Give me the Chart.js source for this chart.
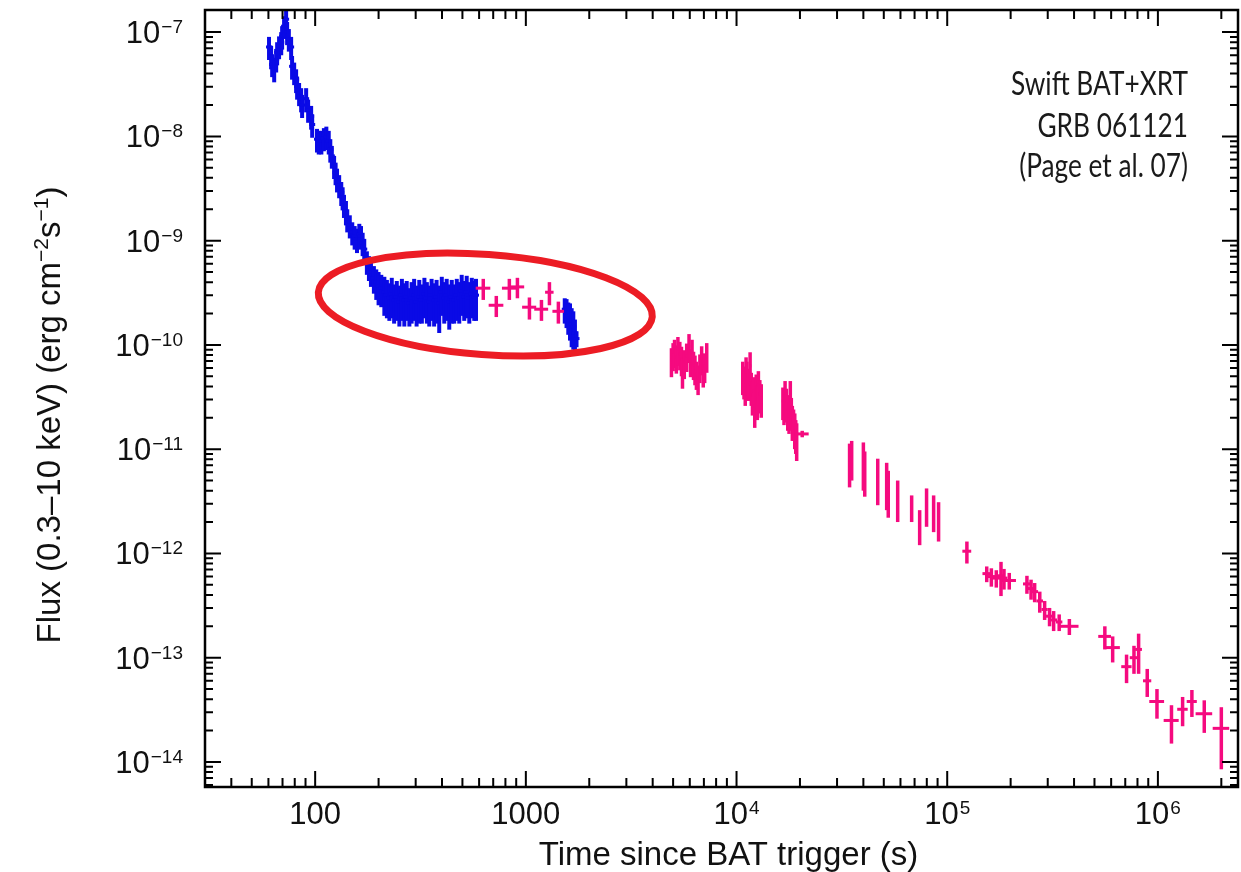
<!DOCTYPE html>
<html>
<head>
<meta charset="utf-8">
<title>GRB 061121 light curve</title>
<script src="https://cdn.jsdelivr.net/npm/chart.js@4.4.1/dist/chart.umd.min.js"></script>
<style>
  html, body { margin: 0; padding: 0; background: #fff; }
  canvas { display: block; }
</style>
</head>
<body>
<canvas id="grafica_grb" width="1241" height="872"></canvas>
<script>
// BAT+XRT WT (blue): time (s), flux and flux error (erg cm-2 s-1)
const batTime = [60.4, 61.8, 62.5, 63.9, 65.3, 66.0, 67.4, 69.0, 69.7, 71.2,
  72.8, 73.6, 75.0, 76.9, 77.7, 79.5, 81.2, 82.1, 83.9, 85.8,
  86.7, 90.6, 92.6, 95.7, 96.8, 102, 104, 107, 110, 113,
  116, 118, 120, 123, 125, 127, 130, 133, 135, 137,
  140, 142, 146, 150, 154, 158, 162, 165, 168, 171,
  176, 180, 184, 190, 195, 200, 206,
  213, 219, 225, 231, 237, 244, 251, 258, 265, 272,
  280, 287, 295, 303, 312, 321, 330, 339, 348, 357,
  367, 377, 388, 399, 410, 421, 433, 445, 457, 470,
  483, 496, 510, 524, 539, 554, 569, 580,
  1530, 1560, 1590, 1620, 1650, 1680, 1710, 1740];
const batFlux = [7.2e-8, 5.9e-8, 4.9e-8, 4.4e-8, 5.5e-8, 6.4e-8, 7.3e-8, 8.0e-8, 9.1e-8, 1.14e-7,
  1.33e-7, 1.0e-7, 8.6e-8, 7.2e-8, 4.7e-8, 4.1e-8, 3.5e-8, 3.0e-8, 2.6e-8, 2.3e-8,
  2.0e-8, 2.3e-8, 1.8e-8, 1.56e-8, 1.3e-8, 9.4e-9, 9.0e-9, 9.0e-9, 9.6e-9, 9.9e-9,
  9.0e-9, 7.5e-9, 6.5e-9, 5.2e-9, 4.5e-9, 3.9e-9, 3.4e-9, 2.9e-9, 2.6e-9, 2.2e-9,
  1.9e-9, 1.6e-9, 1.4e-9, 1.2e-9, 1.1e-9, 1.03e-9, 1.15e-9, 1.1e-9, 9.5e-10, 8.3e-10,
  6.3e-10, 5.6e-10, 5.0e-10, 4.4e-10, 4.0e-10, 3.7e-10, 3.5e-10,
  3.2e-10, 3.0e-10, 2.8e-10, 3.1e-10, 2.7e-10, 2.9e-10, 2.6e-10, 3.0e-10, 2.7e-10, 2.9e-10,
  2.5e-10, 2.8e-10, 3.0e-10, 2.6e-10, 2.9e-10, 2.7e-10, 3.1e-10, 2.8e-10, 2.6e-10, 3.0e-10,
  2.7e-10, 2.9e-10, 2.5e-10, 3.2e-10, 2.8e-10, 3.0e-10, 2.6e-10, 2.9e-10, 2.7e-10, 3.0e-10,
  2.8e-10, 3.3e-10, 2.9e-10, 3.2e-10, 2.8e-10, 3.1e-10, 2.9e-10, 3.0e-10,
  2.2e-10, 2.1e-10, 1.9e-10, 1.8e-10, 1.6e-10, 1.5e-10, 1.3e-10, 1.15e-10];
const batFluxErr = [1.8e-8, 1.5e-8, 1.2e-8, 1.1e-8, 1.4e-8, 1.6e-8, 1.8e-8, 2.0e-8, 2.3e-8, 2.8e-8,
  3.2e-8, 2.5e-8, 2.1e-8, 1.8e-8, 1.2e-8, 1.0e-8, 0.9e-8, 0.75e-8, 0.65e-8, 0.6e-8,
  0.5e-8, 0.6e-8, 0.45e-8, 0.4e-8, 0.33e-8, 2.4e-9, 2.3e-9, 2.3e-9, 2.4e-9, 2.5e-9,
  2.3e-9, 1.9e-9, 1.6e-9, 1.3e-9, 1.1e-9, 1.0e-9, 0.85e-9, 0.75e-9, 0.65e-9, 0.55e-9,
  0.5e-9, 0.4e-9, 0.35e-9, 0.3e-9, 0.28e-9, 0.27e-9, 0.3e-9, 0.28e-9, 2.4e-10, 2.1e-10,
  1.6e-10, 1.5e-10, 1.4e-10, 1.3e-10, 1.3e-10, 1.3e-10, 1.2e-10,
  1.3e-10, 1.2e-10, 1.1e-10, 1.3e-10, 1.1e-10, 1.2e-10, 1.1e-10, 1.3e-10, 1.2e-10, 1.2e-10,
  1.0e-10, 1.2e-10, 1.3e-10, 1.1e-10, 1.3e-10, 1.1e-10, 1.3e-10, 1.2e-10, 1.1e-10, 1.3e-10,
  1.2e-10, 1.3e-10, 1.2e-10, 1.3e-10, 1.2e-10, 1.3e-10, 1.2e-10, 1.3e-10, 1.1e-10, 1.3e-10,
  1.2e-10, 1.4e-10, 1.2e-10, 1.4e-10, 1.2e-10, 1.3e-10, 1.2e-10, 1.3e-10,
  0.6e-10, 0.65e-10, 0.65e-10, 0.7e-10, 0.65e-10, 0.6e-10, 0.45e-10, 0.2e-10];

// XRT PC (magenta): time, time half-width, flux, flux error
const xrtTime = [628, 724, 835, 912, 1040, 1186, 1294, 1427,
  4910, 5000, 5080, 5180, 5270, 5380, 5480, 5540, 5650, 5800, 5950, 6050, 6150, 6250, 6350, 6450, 6570, 6700, 6830, 6950, 7060, 7220,
  10700, 10850, 11000, 11100, 11200, 11400, 11600, 11750, 11900, 12050, 12200, 12400, 12550, 12700, 12900, 13100,
  16600, 16800, 17000, 17250, 17500, 17750, 18000, 18200, 18400, 18650, 18900, 19100, 19300, 20500,
  34400, 35200, 40000, 40600, 46800, 51600, 52500, 58200, 67800, 74000, 79800, 86200, 91000,
  124000, 154000, 162000, 171000, 180000, 186000, 197000, 239000, 250000, 260000, 275000, 290000, 306000, 320000, 340000, 380000,
  560000, 610000, 710000, 770000, 810000, 890000, 990000, 1160000, 1310000, 1450000, 1660000, 2000000];
const xrtTimeErr = [50, 58, 65, 70, 80, 90, 60, 90,
  60, 60, 60, 60, 70, 70, 70, 70, 70, 80, 80, 80, 80, 80, 90, 90, 90, 90, 90, 100, 100, 100,
  150, 150, 150, 150, 150, 150, 150, 150, 150, 150, 150, 150, 150, 150, 150, 150,
  200, 200, 200, 200, 200, 200, 200, 200, 200, 200, 200, 200, 200, 1500,
  300, 300, 300, 300, 400, 400, 400, 400, 500, 500, 500, 600, 600,
  6000, 7000, 7000, 7000, 7000, 7000, 15000, 10000, 10000, 10000, 10000, 10000, 12000, 12000, 12000, 40000,
  39000, 50000, 40000, 35000, 30000, 40000, 80000, 95000, 75000, 80000, 150000, 180000];
const xrtFlux = [3.5e-10, 2.4e-10, 3.5e-10, 3.6e-10, 2.3e-10, 2.2e-10, 3.2e-10, 2.1e-10,
  7.1e-11, 8.0e-11, 8.6e-11, 7.6e-11, 9.1e-11, 8.2e-11, 7.3e-11, 5.6e-11, 6.8e-11, 7.9e-11, 9.7e-11, 7.0e-11, 8.6e-11, 6.6e-11, 6.0e-11, 5.3e-11, 4.8e-11, 6.2e-11, 7.4e-11, 5.6e-11, 6.3e-11, 7.9e-11,
  5.1e-11, 4.6e-11, 4.1e-11, 5.6e-11, 5.1e-11, 4.4e-11, 6.3e-11, 4.0e-11, 3.3e-11, 3.6e-11, 2.6e-11, 3.8e-11, 3.0e-11, 4.1e-11, 3.4e-11, 3.1e-11,
  2.9e-11, 2.6e-11, 3.3e-11, 2.8e-11, 2.4e-11, 2.1e-11, 3.3e-11, 2.3e-11, 1.9e-11, 1.8e-11, 1.6e-11, 1.4e-11, 1.27e-11, 1.4e-11,
  7.8e-12, 8.5e-12, 7.8e-12, 6.5e-12, 5.5e-12, 5.0e-12, 4.2e-12, 3.5e-12, 2.8e-12, 1.9e-12, 3.0e-12, 2.6e-12, 2.2e-12,
  1.05e-12, 6.4e-13, 6.0e-13, 5.8e-13, 6.1e-13, 5.8e-13, 5.5e-13, 5.1e-13, 4.6e-13, 4.3e-13, 3.5e-13, 2.9e-13, 2.5e-13, 2.3e-13, 2.2e-13, 2.0e-13,
  1.6e-13, 1.25e-13, 8.2e-14, 1.0e-13, 1.2e-13, 6.0e-14, 3.8e-14, 2.5e-14, 3.2e-14, 3.8e-14, 2.9e-14, 2.1e-14];
const xrtFluxErr = [0.8e-10, 0.55e-10, 0.8e-10, 0.8e-10, 0.55e-10, 0.5e-10, 0.8e-10, 0.5e-10,
  2.2e-11, 2.4e-11, 2.6e-11, 2.3e-11, 2.8e-11, 2.5e-11, 2.3e-11, 1.8e-11, 2.1e-11, 2.4e-11, 3.0e-11, 2.1e-11, 2.6e-11, 2.0e-11, 1.9e-11, 1.6e-11, 1.5e-11, 1.9e-11, 2.3e-11, 1.7e-11, 2.0e-11, 2.5e-11,
  1.8e-11, 1.6e-11, 1.5e-11, 2.0e-11, 1.8e-11, 1.5e-11, 2.2e-11, 1.4e-11, 1.2e-11, 1.3e-11, 1.0e-11, 1.4e-11, 1.1e-11, 1.5e-11, 1.2e-11, 1.1e-11,
  1.0e-11, 0.9e-11, 1.2e-11, 1.0e-11, 0.9e-11, 0.7e-11, 1.2e-11, 0.8e-11, 0.7e-11, 0.6e-11, 0.6e-11, 0.5e-11, 0.5e-11, 0.1e-11,
  3.5e-12, 3.5e-12, 3.8e-12, 3.0e-12, 2.6e-12, 2.4e-12, 2.0e-12, 1.5e-12, 0.8e-12, 0.7e-12, 1.2e-12, 1.0e-12, 0.9e-12,
  0.25e-12, 1.1e-13, 1.2e-13, 1.1e-13, 2.2e-13, 1.3e-13, 1.0e-13, 1.0e-13, 1.0e-13, 0.9e-13, 0.8e-13, 0.6e-13, 0.5e-13, 0.5e-13, 0.4e-13, 0.35e-13,
  0.4e-13, 0.35e-13, 2.5e-14, 0.3e-13, 0.5e-13, 1.8e-14, 1.2e-14, 1.0e-14, 1.0e-14, 1.1e-14, 1.0e-14, 1.25e-14];

// axes
const xRange = [30, 2.4e6];
const yRange = [5.75e-15, 1.63e-7];
const xTickValues = [100, 1000, 1e4, 1e5, 1e6];
const xTickBase = ['100', '1000', '10', '10', '10'];
const xTickExp = ['', '', '4', '5', '6'];
const yTickValues = [1e-7, 1e-8, 1e-9, 1e-10, 1e-11, 1e-12, 1e-13, 1e-14];
const yTickExp = ['\u22127', '\u22128', '\u22129', '\u221210', '\u221211', '\u221212', '\u221213', '\u221214'];

// red ellipse marking the plateau: [left, centre, right] time and [top, centre, bottom] flux
const ellipseTime = [104, 642, 4040];
const ellipseFlux = [7.4e-10, 2.44e-10, 8.1e-11];

const noteLines = ['Swift BAT+XRT', 'GRB 061121', '(Page et al. 07)'];

const FONT = '"Liberation Sans", Arial, sans-serif';

function buildPoints(t, te, f, fe) {
  return t.map((v, i) => ({ x: v, y: f[i], xe: te ? te[i] : 0, ye: fe[i] }));
}

// error bars (crosses) drawn through the scales
const errorBars = {
  id: 'errorBars',
  afterDatasetsDraw(chart) {
    const { ctx, chartArea: a, scales: { x, y } } = chart;
    ctx.save();
    ctx.beginPath();
    ctx.rect(a.left, a.top, a.right - a.left, a.bottom - a.top);
    ctx.clip();
    chart.data.datasets.forEach(ds => {
      ctx.strokeStyle = ds.borderColor;
      ds.data.forEach(p => {
        const px = x.getPixelForValue(p.x);
        const py = y.getPixelForValue(p.y);
        const lo = y.getPixelForValue(Math.max(p.y - p.ye, y.min));
        const hi = y.getPixelForValue(p.y + p.ye);
        ctx.lineWidth = ds.errWidth;
        ctx.beginPath(); ctx.moveTo(px, lo); ctx.lineTo(px, hi); ctx.stroke();
        const x0 = p.xe ? x.getPixelForValue(p.x - p.xe) : px - ds.capHalf;
        const x1 = p.xe ? x.getPixelForValue(p.x + p.xe) : px + ds.capHalf;
        ctx.lineWidth = ds.capWidth;
        ctx.beginPath(); ctx.moveTo(x0, py); ctx.lineTo(x1, py); ctx.stroke();
      });
    });
    // ellipse
    const cx = x.getPixelForValue(ellipseTime[1]);
    const cy = y.getPixelForValue(ellipseFlux[1]);
    const rx = (x.getPixelForValue(ellipseTime[2]) - x.getPixelForValue(ellipseTime[0])) / 2;
    const ry = (y.getPixelForValue(ellipseFlux[2]) - y.getPixelForValue(ellipseFlux[0])) / 2;
    ctx.strokeStyle = '#ec1c24';
    ctx.lineWidth = 7;
    ctx.beginPath();
    ctx.ellipse(cx, cy, rx, ry, 0.073, 0, Math.PI * 2);
    ctx.stroke();
    ctx.restore();
  }
};

function drawPower(ctx, base, exp, x, yMid, align) {
  ctx.font = '31px ' + FONT;
  const bw = ctx.measureText(base).width;
  ctx.font = '19px ' + FONT;
  const ew = exp ? ctx.measureText(exp).width + 1 : 0;
  const total = bw + ew;
  const start = align === 'right' ? x - total : x - total / 2;
  ctx.textAlign = 'left';
  ctx.textBaseline = 'alphabetic';
  ctx.font = '31px ' + FONT;
  ctx.fillText(base, start, yMid + 11);
  if (exp) {
    ctx.font = '19px ' + FONT;
    ctx.fillText(exp, start + bw + 1, yMid + 1);
  }
}

// frame, inward ticks, labels, titles, note
const frame = {
  id: 'frame',
  afterDraw(chart) {
    const { ctx, chartArea: a, scales: { x, y } } = chart;
    ctx.save();
    ctx.strokeStyle = '#000';
    ctx.fillStyle = '#111';
    ctx.lineWidth = 2.5;
    ctx.strokeRect(a.left, a.top, a.right - a.left, a.bottom - a.top);
    ctx.lineWidth = 2;
    ctx.beginPath();
    for (let d = 1; d <= 6; d++) {
      for (let k = 1; k <= 9; k++) {
        const v = k * Math.pow(10, d);
        if (v < x.min || v > x.max) continue;
        const px = x.getPixelForValue(v);
        const len = k === 1 ? 16 : 9;
        ctx.moveTo(px, a.bottom); ctx.lineTo(px, a.bottom - len);
        ctx.moveTo(px, a.top); ctx.lineTo(px, a.top + len);
      }
    }
    for (let d = -15; d <= -7; d++) {
      for (let k = 1; k <= 9; k++) {
        const v = k * Math.pow(10, d);
        if (v < y.min || v > y.max) continue;
        const py = y.getPixelForValue(v);
        const len = k === 1 ? 16 : 8;
        ctx.moveTo(a.left, py); ctx.lineTo(a.left + len, py);
        ctx.moveTo(a.right, py); ctx.lineTo(a.right - len, py);
      }
    }
    ctx.stroke();

    xTickValues.forEach((v, i) => {
      drawPower(ctx, xTickBase[i], xTickExp[i], x.getPixelForValue(v), a.bottom + 26, 'center');
    });
    yTickValues.forEach((v, i) => {
      drawPower(ctx, '10', yTickExp[i], a.left - 22, y.getPixelForValue(v), 'right');
    });

    // x title
    ctx.font = '33px ' + FONT;
    ctx.textAlign = 'center';
    ctx.textBaseline = 'alphabetic';
    ctx.fillText('Time since BAT trigger (s)', (a.left + a.right) / 2 + 7, 865);

    // y title with superscripts
    const parts = [['Flux (0.3\u201310 keV) (erg cm', false], ['\u22122', true], ['s', false], ['\u22121', true], [')', false]];
    let total = 0;
    parts.forEach(p => {
      ctx.font = (p[1] ? '21px ' : '33px ') + FONT;
      total += ctx.measureText(p[0]).width;
    });
    ctx.save();
    ctx.translate(60, 415);
    ctx.rotate(-Math.PI / 2);
    ctx.textAlign = 'left';
    let cur = -total / 2;
    parts.forEach(p => {
      ctx.font = (p[1] ? '21px ' : '33px ') + FONT;
      ctx.fillText(p[0], cur, p[1] ? -12 : 0);
      cur += ctx.measureText(p[0]).width;
    });
    ctx.restore();

    // note
    ctx.fillStyle = '#1a1a1a';
    ctx.font = '32px Lato, "Open Sans", sans-serif';
    ctx.textAlign = 'right';
    [95, 137, 177].forEach((by, i) => {
      ctx.save();
      ctx.translate(a.right - 50, by);
      ctx.scale(0.82, 1);
      ctx.fillText(noteLines[i], 0, 0);
      ctx.restore();
    });
    ctx.restore();
  }
};

const canvas = document.getElementById('grafica_grb');
new Chart(canvas.getContext('2d'), {
  type: 'scatter',
  data: {
    datasets: [
      {
        label: 'BAT+XRT WT',
        data: buildPoints(batTime, null, batFlux, batFluxErr),
        borderColor: '#0a0ae6',
        backgroundColor: '#0a0ae6',
        pointRadius: 0,
        errWidth: 4,
        capWidth: 3,
        capHalf: 3
      },
      {
        label: 'XRT PC',
        data: buildPoints(xrtTime, xrtTimeErr, xrtFlux, xrtFluxErr),
        borderColor: '#f50a7f',
        backgroundColor: '#f50a7f',
        pointRadius: 0,
        errWidth: 3.5,
        capWidth: 3,
        capHalf: 3
      }
    ]
  },
  options: {
    responsive: false,
    animation: false,
    devicePixelRatio: 1,
    layout: { padding: { top: 10, right: 3, left: 0, bottom: 0 } },
    plugins: { legend: { display: false }, tooltip: { enabled: false } },
    scales: {
      x: {
        type: 'logarithmic', min: xRange[0], max: xRange[1],
        ticks: { display: false }, grid: { display: false }, border: { display: false },
        afterFit(scale) { scale.height = 85; }
      },
      y: {
        type: 'logarithmic', min: yRange[0], max: yRange[1],
        ticks: { display: false }, grid: { display: false }, border: { display: false },
        afterFit(scale) { scale.width = 205; }
      }
    }
  },
  plugins: [errorBars, frame]
});
</script>
</body>
</html>
